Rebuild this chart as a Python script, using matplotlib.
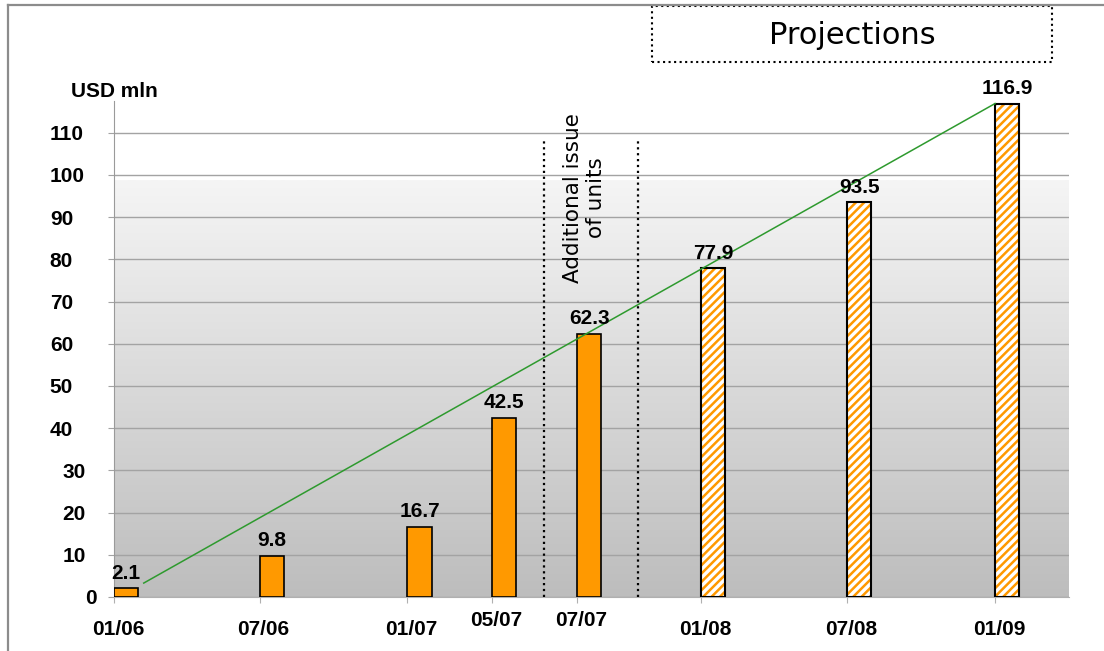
import matplotlib
matplotlib.use("Agg")
import matplotlib.dates as mdates
import matplotlib.pyplot as plt
import matplotlib.transforms as mtransforms
import numpy as np
from matplotlib.colors import LinearSegmentedColormap
from matplotlib.lines import Line2D
from matplotlib.patches import Rectangle

# Fund net assets, USD mln (last three points are projections)
period_dates = ["2006-01-01", "2006-07-01", "2007-01-01", "2007-04-16",
                "2007-07-31", "2008-01-01", "2008-07-01", "2009-01-01"]
period_labels = ["01/06", "07/06", "01/07", "05/07", "07/07", "01/08", "07/08", "01/09"]
net_assets = [2.1, 9.8, 16.7, 42.5, 62.3, 77.9, 93.5, 116.9]
is_projection = [False, False, False, False, False, True, True, True]

# Window of the additional unit issue
issue_window = ["2007-06-20", "2007-10-15"]

# Growth trend line
trend_dates = ["2006-02-07", "2009-01-01"]
trend_values = [3.3, 116.9]

y_ticks = list(range(0, 111, 10))

ORANGE = "#ff9900"
BAR_DAYS = 30
X_END = "2009-04-03"
Y_MAX = 117.5
LABEL_SIZE = 15

plt.rcParams["font.family"] = ["Liberation Sans", "DejaVu Sans"]
plt.rcParams["hatch.linewidth"] = 1.8

x = mdates.datestr2num(period_dates)
x_issue = mdates.datestr2num(issue_window)
x_trend = mdates.datestr2num(trend_dates)
x_lo = x[0]
x_hi = mdates.datestr2num(X_END)

fig = plt.figure(figsize=(11.04, 6.51), dpi=100)
ax = fig.add_axes([114 / 1104, 54 / 651, 955 / 1104, 496 / 651])

# soft grey gradient behind the bars
grad = np.linspace(0, 1, 256).reshape(-1, 1)
bg_cmap = LinearSegmentedColormap.from_list("bg", ["#bdbdbd", "#f5f5f5"])
ax.imshow(grad, extent=[x_lo, x_hi, 0, 98.6], origin="lower", aspect="auto",
          cmap=bg_cmap, zorder=0)

ax.set_axisbelow(True)
ax.yaxis.grid(True, color="#a3a3a3", lw=1.0)

for xi, val, proj in zip(x, net_assets, is_projection):
    if proj:
        ax.bar(xi, val, width=BAR_DAYS, align="edge", color="white",
               edgecolor=ORANGE, hatch="////", lw=0, zorder=2)
        ax.bar(xi, val, width=BAR_DAYS, align="edge", color="none",
               edgecolor="black", lw=1.5, zorder=3)
    else:
        ax.bar(xi, val, width=BAR_DAYS, align="edge", color=ORANGE,
               edgecolor="black", lw=1.2, zorder=3)
    ax.annotate(f"{val:.1f}", (xi + BAR_DAYS / 2, val), xytext=(0, 4),
                textcoords="offset points", ha="center", va="bottom",
                fontsize=LABEL_SIZE, fontweight="bold", zorder=5)

ax.plot(x_trend, trend_values, color="#2e9a2e", lw=1.1, zorder=4)

ax.vlines(x_issue, 0, 108.3, colors="black", linestyles=":", lw=1.6, zorder=4)
ax.text(x_issue.mean() - 8, 94.5, "Additional issue\nof units", rotation=90,
        ha="center", va="center", multialignment="center", linespacing=1.2,
        fontsize=15.5, family="DejaVu Sans", zorder=5)

ax.set_xlim(x_lo, x_hi)
ax.set_ylim(0, Y_MAX)
ax.set_yticks(y_ticks)
ax.set_xticks(x)
ax.set_xticklabels(period_labels)

for side in ("top", "right"):
    ax.spines[side].set_visible(False)
ax.spines["left"].set_color("#9a9a9a")
ax.spines["bottom"].set_color("#b0b0b0")
ax.tick_params(axis="y", direction="out", length=4.3, color="#a3a3a3", pad=16,
               labelsize=LABEL_SIZE)
ax.tick_params(axis="x", direction="out", length=4.3, color="#b0b0b0", pad=12,
               labelsize=LABEL_SIZE)
for lab in ax.get_yticklabels() + ax.get_xticklabels():
    lab.set_fontweight("bold")

# y labels: upper values flush left, 10-30 flush right, zero set in closer
for lab, v in zip(ax.get_yticklabels(), y_ticks):
    if v == 0:
        dx = 11
    elif v <= 30:
        dx = 0
    else:
        lab.set_horizontalalignment("left")
        dx = -36
    lab.set_transform(lab.get_transform() +
                      mtransforms.ScaledTranslation(dx / 100, 0, fig.dpi_scale_trans))

# nudge the x labels a little right; the two mid-2007 labels sit higher
for i, lab in enumerate(ax.get_xticklabels()):
    dy = 6 / 72 if i in (3, 4) else 0
    lab.set_transform(lab.get_transform() +
                      mtransforms.ScaledTranslation(4 / 100, dy, fig.dpi_scale_trans))

fig.text(71 / 1104, 1 - 97 / 651, "USD mln", fontsize=LABEL_SIZE, fontweight="bold",
         ha="left", va="baseline")

# projections header box
fig.add_artist(Rectangle((652 / 1104, 1 - 62 / 651), 400 / 1104, 56 / 651,
                         transform=fig.transFigure, fill=False, ec="black",
                         ls=":", lw=1.5))
fig.text(852 / 1104, 1 - 35 / 651, "Projections", fontsize=22,
         family="DejaVu Sans", ha="center", va="center")

# outer frame
fig.add_artist(Line2D([8 / 1104, 1], [1 - 5 / 651, 1 - 5 / 651],
                      transform=fig.transFigure, color="#8c8c8c", lw=1.6))
fig.add_artist(Line2D([8 / 1104, 8 / 1104], [0, 1 - 5 / 651],
                      transform=fig.transFigure, color="#8c8c8c", lw=1.6))

fig.savefig("out.png", dpi=100)
